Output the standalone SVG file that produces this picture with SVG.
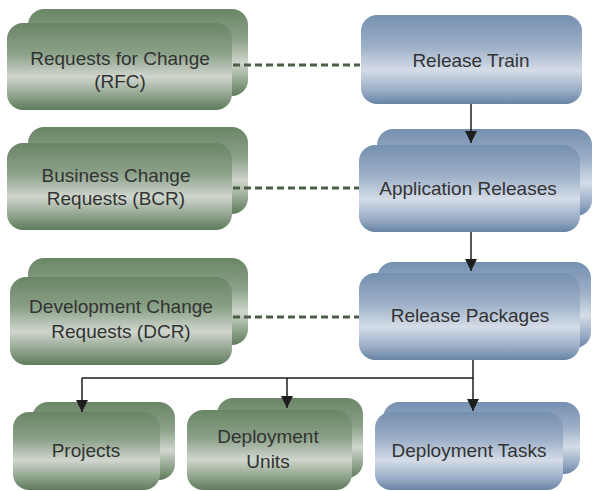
<svg xmlns="http://www.w3.org/2000/svg" width="593" height="491" viewBox="0 0 593 491">
<defs>
<linearGradient id="gG" x1="0" y1="0" x2="0" y2="1">
<stop offset="0" stop-color="#6a8566"/>
<stop offset="0.35" stop-color="#8ba188"/>
<stop offset="0.62" stop-color="#d0d6ce"/>
<stop offset="0.85" stop-color="#8aa087"/>
<stop offset="1" stop-color="#5f7a5c"/>
</linearGradient>
<linearGradient id="gB" x1="0" y1="0" x2="0" y2="1">
<stop offset="0" stop-color="#7590b0"/>
<stop offset="0.35" stop-color="#9cafc7"/>
<stop offset="0.62" stop-color="#d4dce7"/>
<stop offset="0.85" stop-color="#99adc6"/>
<stop offset="1" stop-color="#6883a6"/>
</linearGradient>
<marker id="ah" viewBox="0 0 12 12" refX="12" refY="6" markerWidth="12" markerHeight="12" markerUnits="userSpaceOnUse" orient="auto">
<path d="M0,0 L12,6 L0,12 Z" fill="#1e1e1e"/>
</marker>
<style>
.g{fill:url(#gG)}
.b{fill:url(#gB)}
.t{font-family:"Liberation Sans",Arial,sans-serif;font-size:19px;fill:#333333;text-anchor:middle}
.dash{stroke:#4b5f47;stroke-width:3;stroke-dasharray:7 4;fill:none}
.arr{stroke:#1e1e1e;stroke-width:1.5;fill:none}
</style>
</defs>
<rect width="593" height="491" fill="#ffffff"/>

<g id="rfc">
<rect class="g" x="28" y="9" width="220" height="87" rx="16"/>
<rect class="g" x="7" y="23" width="225" height="87" rx="16"/>
<text class="t" x="120" y="65">Requests for Change</text>
<text class="t" x="120" y="88">(RFC)</text>
</g>

<g id="bcr">
<rect class="g" x="28" y="127" width="220" height="87" rx="16"/>
<rect class="g" x="7" y="143" width="225" height="87" rx="16"/>
<text class="t" x="116" y="182">Business Change</text>
<text class="t" x="116" y="205">Requests (BCR)</text>
</g>

<g id="dcr">
<rect class="g" x="28" y="258" width="220" height="87" rx="16"/>
<rect class="g" x="10" y="277" width="222" height="88" rx="16"/>
<text class="t" x="121" y="313">Development Change</text>
<text class="t" x="121" y="338">Requests (DCR)</text>
</g>

<g id="release-train">
<rect class="b" x="361" y="15" width="221" height="89" rx="16"/>
<text class="t" x="471" y="67">Release Train</text>
</g>

<g id="app-releases">
<rect class="b" x="377" y="129" width="215" height="87" rx="16"/>
<rect class="b" x="359" y="145" width="221" height="87" rx="16"/>
<text class="t" x="468" y="195">Application Releases</text>
</g>

<g id="release-packages">
<rect class="b" x="377" y="262" width="214" height="86" rx="16"/>
<rect class="b" x="359" y="273" width="221" height="87" rx="16"/>
<text class="t" x="470" y="322">Release Packages</text>
</g>

<g id="projects">
<rect class="g" x="32" y="402" width="143" height="78" rx="16"/>
<rect class="g" x="13" y="412" width="147" height="78" rx="16"/>
<text class="t" x="86" y="457">Projects</text>
</g>

<g id="deployment-units">
<rect class="g" x="217" y="398" width="146" height="80" rx="16"/>
<rect class="g" x="187" y="410" width="165" height="80" rx="16"/>
<text class="t" x="268" y="443">Deployment</text>
<text class="t" x="268" y="468">Units</text>
</g>

<g id="deployment-tasks">
<rect class="b" x="383" y="402" width="197" height="72" rx="16"/>
<rect class="b" x="375" y="412" width="188" height="78" rx="16"/>
<text class="t" x="469" y="457">Deployment Tasks</text>
</g>

<g id="connectors">
<line class="dash" x1="233" y1="65" x2="360" y2="65"/>
<line class="dash" x1="233" y1="188" x2="359" y2="188"/>
<line class="dash" x1="233" y1="317" x2="359" y2="317"/>
<line class="arr" x1="471" y1="104" x2="471" y2="143" marker-end="url(#ah)"/>
<line class="arr" x1="471" y1="232" x2="471" y2="271" marker-end="url(#ah)"/>
<polyline class="arr" points="473,360 473,378 82,378"/>
<line class="arr" x1="473" y1="378" x2="473" y2="411" marker-end="url(#ah)"/>
<line class="arr" x1="82" y1="378" x2="82" y2="412" marker-end="url(#ah)"/>
<line class="arr" x1="287" y1="378" x2="287" y2="408" marker-end="url(#ah)"/>
</g>
</svg>
